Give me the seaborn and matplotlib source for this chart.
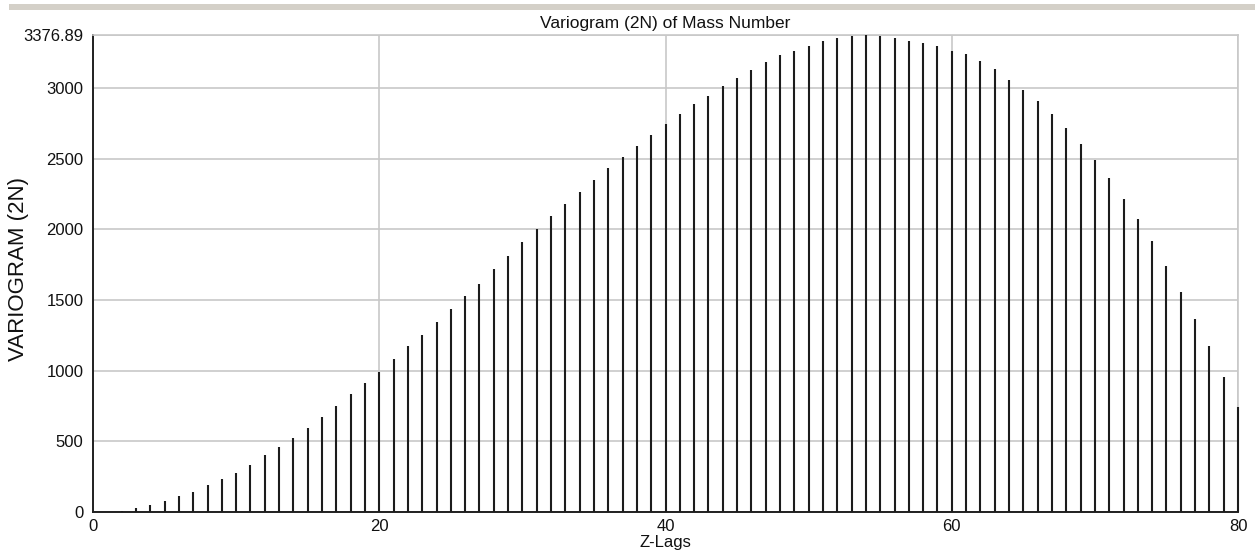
import numpy as np
import pandas as pd
import seaborn as sns
import matplotlib.pyplot as plt
from matplotlib.patches import Rectangle

# variogram values per lag
LAGS = list(range(1, 81))
VARIOGRAM = [
    0, 6, 28, 52, 75, 110, 141, 191, 233, 278,
    336, 403, 459, 527, 596, 676, 753, 834, 914, 994,
    1083, 1173, 1255, 1345, 1437, 1526, 1616, 1719, 1809, 1912,
    2002, 2094, 2184, 2266, 2353, 2433, 2513, 2594, 2671, 2745,
    2820, 2890, 2944, 3015, 3071, 3128, 3185, 3232, 3265, 3300,
    3333, 3354, 3370, 3376.89, 3372, 3354, 3333, 3319, 3300, 3262,
    3241, 3194, 3138, 3057, 2991, 2912, 2820, 2718, 2605, 2492,
    2367, 2219, 2071, 1915, 1743, 1559, 1368, 1173, 958, 742,
]
Y_TICKS = [0, 500, 1000, 1500, 2000, 2500, 3000, 3376.89]
Y_TICK_LABELS = ["0", "500", "1000", "1500", "2000", "2500", "3000", "3376.89"]
X_TICKS = [0, 20, 40, 60, 80]

TITLE = "Variogram (2N) of Mass Number"
XLABEL = "Z-Lags"
YLABEL = "VARIOGRAM (2N)"

STEM_COLOR = "#1c1c1c"
GRID_COLOR = "#c8c8c8"
BAND_COLOR = "#d4d0c8"


def main():
    sns.set_theme(style="white")
    plt.rcParams.update({
        "font.family": ["Liberation Sans", "DejaVu Sans"],
    })

    df = pd.DataFrame({"lag": LAGS, "value": VARIOGRAM})

    fig = plt.figure(figsize=(12.55, 5.56), dpi=100)
    fig.patch.set_facecolor("white")
    ax = fig.add_axes([93 / 1255, 44 / 556, (1238 - 93) / 1255, (512 - 35) / 556])

    # stems: one vertical line per lag
    ax.vlines(df["lag"], 0, df["value"], color=STEM_COLOR, linewidth=1.5,
              clip_on=False, zorder=3)

    ax.set_xlim(0, 80)
    ax.set_ylim(0, max(VARIOGRAM))
    ax.set_xticks(X_TICKS)
    ax.set_xticklabels([str(t) for t in X_TICKS])
    ax.set_yticks(Y_TICKS)
    ax.set_yticklabels(Y_TICK_LABELS)

    ax.grid(True, color=GRID_COLOR, linewidth=1.2)
    ax.set_axisbelow(True)
    ax.tick_params(axis="both", direction="out", length=4, width=1,
                   color="#202020", labelsize=12, pad=1, labelcolor="#111111")
    ax.tick_params(axis="y", length=5, pad=2)

    for side in ("left", "bottom"):
        ax.spines[side].set_color("#202020")
        ax.spines[side].set_linewidth(1.4)
    for side in ("top", "right"):
        ax.spines[side].set_color(GRID_COLOR)
        ax.spines[side].set_linewidth(1.2)

    ax.set_title(TITLE, fontsize=12.5, pad=5, color="#111111")
    ax.set_xlabel(XLABEL, fontsize=12, labelpad=0.5, color="#111111")
    ax.set_ylabel(YLABEL, fontsize=16, color="#111111")
    ax.yaxis.label.set_verticalalignment("center")
    ax.yaxis.set_label_coords(-0.065, 0.51)

    # grey strip at the top of the page
    fig.add_artist(Rectangle((9 / 1255, 1 - 10 / 556), 1, 6 / 556,
                             transform=fig.transFigure, facecolor=BAND_COLOR,
                             edgecolor="none"))

    fig.savefig("out.png", dpi=100)


if __name__ == "__main__":
    main()
